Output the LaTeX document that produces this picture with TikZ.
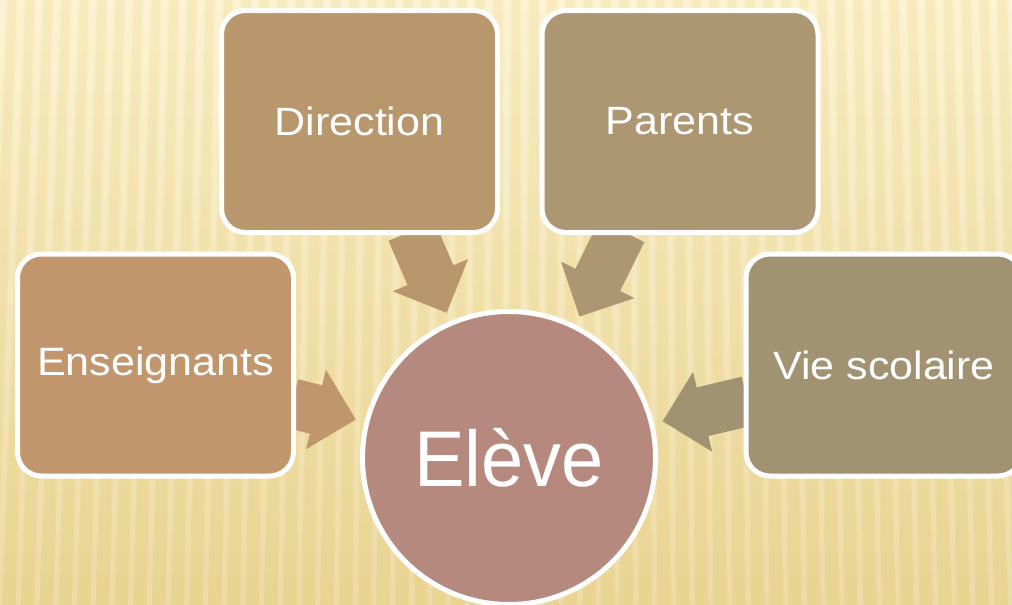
\documentclass[tikz,border=0pt]{standalone}
\usepackage{fontspec}
\setmainfont{Liberation Sans}
\newfontfamily\boxfont[FakeStretch=1.09]{Liberation Sans}
\newfontfamily\circfont[FakeStretch=0.96]{Liberation Sans}
\usetikzlibrary{calc}
\definecolor{bgtop}{RGB}{251,241,203}
\definecolor{bgbot}{RGB}{233,212,146}
\definecolor{cdir}{RGB}{184,151,109}
\definecolor{cpar}{RGB}{173,150,114}
\definecolor{cens}{RGB}{194,150,108}
\definecolor{cvie}{RGB}{161,147,113}
\definecolor{celv}{RGB}{181,137,125}
\pgfdeclarelayer{bglayer}
\pgfdeclarelayer{arrlayer}
\pgfsetlayers{bglayer,arrlayer,main}
\tikzset{
  boxnode/.style={draw=white, line width=5pt, rounded corners=24pt,
    minimum width=276pt, minimum height=222pt, text=white, inner sep=0pt,
    font=\boxfont\fontsize{39.5}{46}\selectfont},
  circnode/.style={circle, draw=white, line width=5pt, minimum size=293pt,
    text=white, inner sep=0pt, font=\circfont\fontsize{79}{90}\selectfont},
}
\newcommand\blockarrow[3]{%
  \coordinate (ba-tip) at ($(#2)!158pt!(#1)$);
  \coordinate (ba-base) at ($(ba-tip)!41pt!(#1)$);
  \fill[#3] ($(#1)!25pt!90:(ba-tip)$) -- ($(ba-base)!25pt!90:(ba-tip)$)
    -- ($(ba-base)!41pt!90:(ba-tip)$) -- (ba-tip)
    -- ($(ba-base)!41pt!-90:(ba-tip)$) -- ($(ba-base)!25pt!-90:(ba-tip)$)
    -- ($(#1)!25pt!-90:(ba-tip)$) -- cycle;
}
\begin{document}
\begin{tikzpicture}[x=1pt,y=-1pt]
\useasboundingbox (0,0) rectangle (1012,605);
\clip (0,0) rectangle (1012,605);
\begin{pgfonlayer}{bglayer}
  \clip (0,0) rectangle (1012,605);
  \fill[top color=bgtop, bottom color=bgbot] (0,0) rectangle (1012,605);
  \foreach \x in {-60,-42,...,1080} {
    \draw[line width=9pt, color=bgbot, opacity=0.22] (\x,0) -- ({\x+(\x-560)*0.04},605);
    \draw[line width=5pt, color=white, opacity=0.18] ({\x+9},0) -- ({\x+9+(\x-550)*0.04},605);
  }
\end{pgfonlayer}

\node[boxnode, fill=cdir] (dir) at (359.5,121.5) {Direction};
\node[boxnode, fill=cpar] (par) at (680,121.5) {Parents};
\node[boxnode, fill=cens] (ens) at (155.5,365) {Enseignants};
\node[boxnode, fill=cvie] (vie) at (884,365) {Vie scolaire};
\node[circnode, fill=celv] (elv) at (509,458) {Elève};

\coordinate (tdir) at ($(dir.south)+(52,-4)$);
\coordinate (tpar) at ($(par.south)+(-58,-4)$);
\coordinate (tens) at ($(ens.east)+(-4,38.5)$);
\coordinate (tvie) at ($(vie.west)+(4,36)$);

\begin{pgfonlayer}{arrlayer}
  \blockarrow{tdir}{elv}{cdir}
  \blockarrow{tpar}{elv}{cpar}
  \blockarrow{tens}{elv}{cens}
  \blockarrow{tvie}{elv}{cvie}
\end{pgfonlayer}
\end{tikzpicture}
\end{document}
